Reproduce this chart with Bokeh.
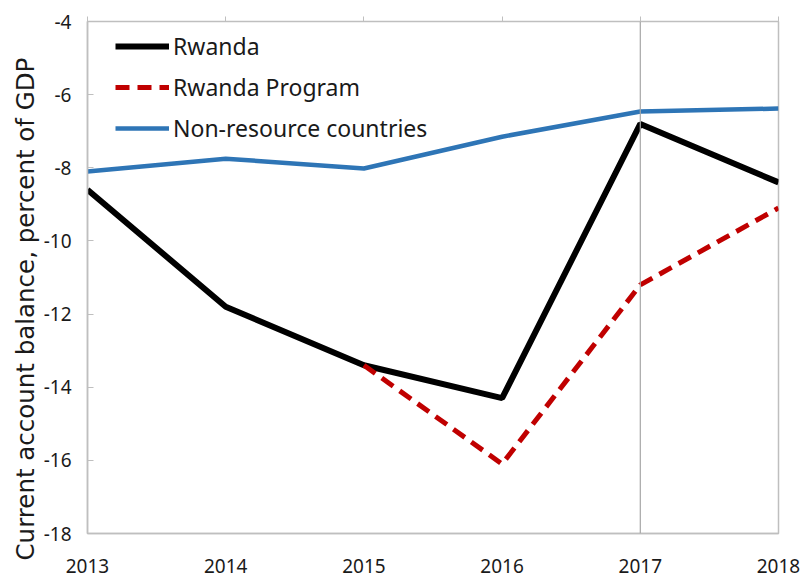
from bokeh.plotting import figure
from bokeh.models import (Span, LinearAxis, Legend, LegendItem, FixedTicker, Range1d,
                          CustomJSTickFormatter, Title)
from bokeh.embed import file_html
from bokeh.resources import INLINE

years = [2013, 2014, 2015, 2016, 2017, 2018]
rwanda = [-8.6, -11.8, -13.4, -14.3, -6.8, -8.4]
program_years = [2015, 2016, 2017, 2018]
program = [-13.4, -16.1, -11.2, -9.1]
nonres = [-8.1, -7.75, -8.02, -7.15, -6.46, -6.38]
y_ticks = [-18, -16, -14, -12, -10, -8, -6, -4]

FONT = "Noto Sans"
GRAY = "#bfbfbf"
TXT = "#1a1a1a"

p = figure(width=801, height=580, output_backend="svg", toolbar_location=None,
           x_range=Range1d(2013, 2018), y_range=Range1d(-18, -4),
           min_border_left=87, min_border_right=23, min_border_top=21, min_border_bottom=47)
p.outline_line_color = GRAY
p.outline_line_width = 1.5
p.xgrid.visible = False
p.ygrid.visible = False

span = Span(location=2017, dimension="height", line_color="#a6a6a6", line_width=1.2)
p.add_layout(span)

r1 = p.line(years, rwanda, line_color="black", line_width=6)
r2 = p.line(program_years, program, line_color="#c00000", line_width=5, line_dash="14 8")
r3 = p.line(years, nonres, line_color="#2e75b6", line_width=4.5)

for ax in [p.xaxis[0], p.yaxis[0]]:
    ax.axis_line_color = GRAY
    ax.axis_line_width = 1.5
    ax.major_tick_line_color = GRAY
    ax.minor_tick_line_color = None
    ax.major_label_text_font = FONT
    ax.major_label_text_color = TXT

p.xaxis.ticker = FixedTicker(ticks=years)
p.xaxis.major_label_text_font_size = "19px"
p.xaxis.major_tick_in = 0
p.xaxis.major_tick_out = 0
p.xaxis.major_label_standoff = 25

p.yaxis.ticker = FixedTicker(ticks=y_ticks)
p.yaxis.formatter = CustomJSTickFormatter(code="return tick.toFixed(0);")
p.yaxis.major_label_text_font_size = "19px"
p.yaxis.major_tick_in = 6
p.yaxis.major_tick_out = 0
p.yaxis.major_label_standoff = 16

ylab = Title(text="Current account balance, percent of GDP", align="left", offset=-27,
             text_font="DejaVu Sans", text_font_size="24.5px", text_font_style="normal",
             text_color=TXT, standoff=2)
p.add_layout(ylab, "left")

top = LinearAxis(ticker=FixedTicker(ticks=years))
top.major_label_text_font_size = "0px"
top.major_label_text_color = None
top.axis_line_color = None
top.major_tick_line_color = GRAY
top.major_tick_in = 0
top.major_tick_out = 5
top.minor_tick_line_color = None
p.add_layout(top, "above")

legend = Legend(items=[LegendItem(label="Rwanda", renderers=[r1]),
                       LegendItem(label="Rwanda Program", renderers=[r2]),
                       LegendItem(label="Non-resource countries", renderers=[r3])],
                location=(28, 385))
legend.label_text_font = FONT
legend.label_text_font_size = "23px"
legend.label_text_color = TXT
legend.glyph_width = 54
legend.glyph_height = 20
legend.label_height = 41
legend.label_standoff = 4
legend.spacing = 0
legend.padding = 0
legend.margin = 0
legend.border_line_color = None
legend.background_fill_alpha = 0
p.add_layout(legend, "center")

open("out.html", "w").write(file_html(p, INLINE))
